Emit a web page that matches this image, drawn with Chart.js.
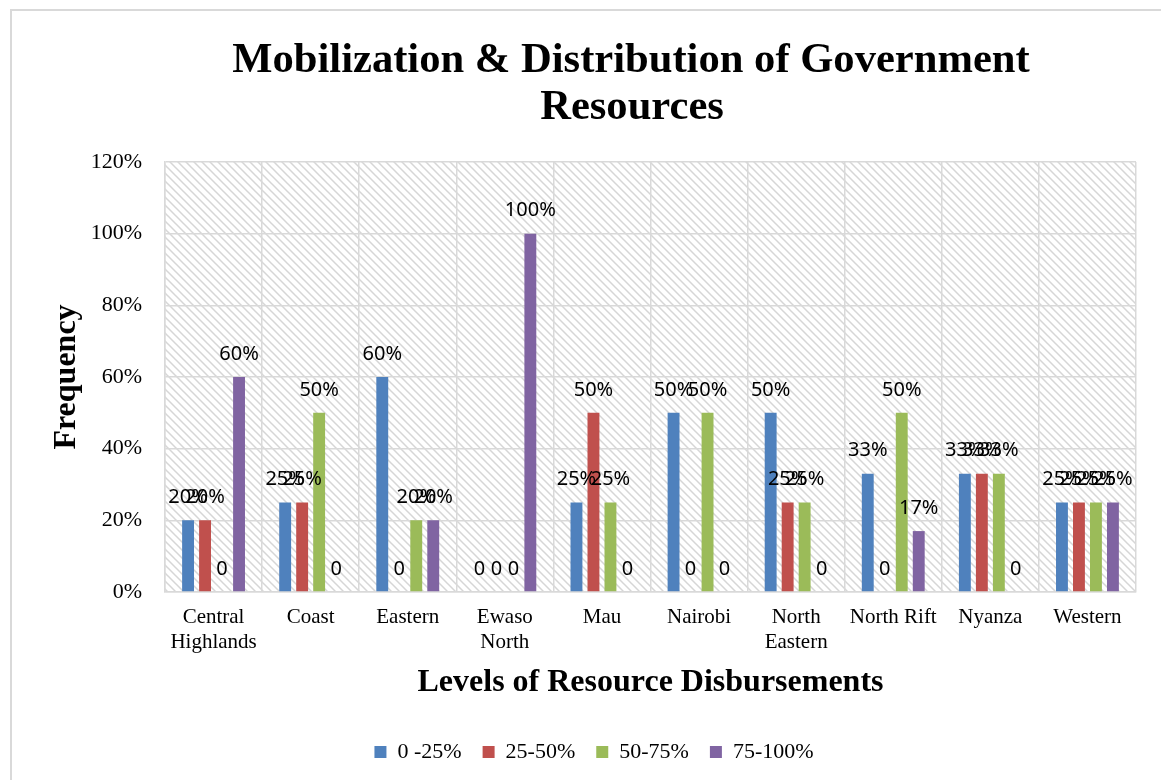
<!DOCTYPE html>
<html>
<head>
<meta charset="utf-8">
<title>Mobilization &amp; Distribution of Government Resources</title>
<script src="https://cdn.jsdelivr.net/npm/chart.js@4.4.1/dist/chart.umd.min.js"></script>
<style>
    html, body { margin: 0; padding: 0; background: #ffffff; }
    #wrap { width: 1161px; height: 780px; position: relative; }
</style>
</head>
<body>
<div id="wrap"><canvas id="resourceChart"></canvas></div>
<script>
// Regions (multi-line labels as arrays)
const regions = [
    ['Central', 'Highlands'], 'Coast', 'Eastern', ['Ewaso', 'North'], 'Mau',
    'Nairobi', ['North', 'Eastern'], 'North Rift', 'Nyanza', 'Western'
];

// Share of respondents per disbursement level, in percent
const level0to25   = [20, 25, 60, 0, 25, 50, 50, 33, 33, 25];
const level25to50  = [20, 25, 0, 0, 50, 0, 25, 0, 33, 25];
const level50to75  = [0, 50, 20, 0, 25, 50, 25, 50, 33, 25];
const level75to100 = [60, 0, 20, 100, 0, 0, 0, 17, 0, 25];

const seriesNames = ['0 -25%', '25-50%', '50-75%', '75-100%'];
const yTicks = [0, 20, 40, 60, 80, 100, 120];
const titleLines = ['Mobilization & Distribution of Government', 'Resources'];

const serif = '"Liberation Serif", "Times New Roman", serif';
const gridColor = '#d9d9d9';

// Diagonal hatch used as the plot background
function makeHatch() {
    const size = 8;
    const c = document.createElement('canvas');
    c.width = size;
    c.height = size;
    const g = c.getContext('2d');
    g.fillStyle = '#ffffff';
    g.fillRect(0, 0, size, size);
    g.strokeStyle = '#d6d6d6';
    g.lineWidth = 1.5;
    g.beginPath();
    g.moveTo(-1, -1);
    g.lineTo(size + 1, size + 1);
    g.moveTo(-1, size - 1);
    g.lineTo(1, size + 1);
    g.moveTo(size - 1, -1);
    g.lineTo(size + 1, 1);
    g.stroke();
    return c;
}

const backdrop = {
    id: 'backdrop',
    beforeDraw(chart) {
        const { ctx, chartArea: a } = chart;
        ctx.save();
        ctx.fillStyle = '#ffffff';
        ctx.fillRect(0, 0, chart.width, chart.height);
        // outer frame
        ctx.strokeStyle = gridColor;
        ctx.lineWidth = 2;
        ctx.strokeRect(11, 10, chart.width + 20, chart.height + 20);
        // hatched plot area
        ctx.fillStyle = ctx.createPattern(makeHatch(), 'repeat');
        ctx.fillRect(a.left, a.top, a.right - a.left, a.bottom - a.top);
        ctx.restore();
    }
};

// Two-line chart heading, centred a little right of the canvas middle
const heading = {
    id: 'heading',
    afterDraw(chart) {
        const { ctx } = chart;
        ctx.save();
        ctx.font = 'bold 42.6px ' + serif;
        ctx.fillStyle = '#000000';
        ctx.textAlign = 'center';
        ctx.textBaseline = 'alphabetic';
        ctx.fillText(titleLines[0], 631, 72);
        ctx.fillText(titleLines[1], 632, 119);
        ctx.restore();
    }
};

// Value labels above every bar, "0" for empty bars
const barValueLabels = {
    id: 'barValueLabels',
    afterDatasetsDraw(chart) {
        const { ctx } = chart;
        ctx.save();
        ctx.font = '20px "Noto Sans", "Open Sans", sans-serif';
        ctx.fillStyle = '#000000';
        ctx.textAlign = 'center';
        ctx.textBaseline = 'middle';
        chart.data.datasets.forEach((ds, i) => {
            chart.getDatasetMeta(i).data.forEach((bar, j) => {
                const v = ds.data[j];
                ctx.fillText(v === 0 ? '0' : v + '%', bar.x, bar.y - 23);
            });
        });
        ctx.restore();
    }
};

const colors = ['#4F81BD', '#C0504D', '#9BBB59', '#8064A2'];
const seriesData = [level0to25, level25to50, level50to75, level75to100];

new Chart(document.getElementById('resourceChart'), {
    type: 'bar',
    data: {
        labels: regions,
        datasets: seriesData.map((data, i) => ({
            label: seriesNames[i],
            data: data,
            backgroundColor: colors[i],
            borderWidth: 0,
            categoryPercentage: 0.7,
            barPercentage: 0.7
        }))
    },
    options: {
        responsive: true,
        maintainAspectRatio: false,
        animation: false,
        layout: {
            padding: { left: 52, right: 25, top: 162, bottom: 7 }
        },
        scales: {
            x: {
                afterFit(scale) { scale.height = 128; },
                grid: { color: gridColor, lineWidth: 1.5, drawTicks: false, offset: true },
                border: { color: gridColor, width: 1.5 },
                ticks: {
                    color: '#000000',
                    padding: 13,
                    font: { family: serif, size: 21, lineHeight: 1.2 },
                    maxRotation: 0,
                    autoSkip: false
                },
                title: {
                    display: true,
                    text: 'Levels of Resource Disbursements',
                    color: '#000000',
                    font: { family: serif, size: 32, weight: 'bold' },
                    padding: { top: 0, bottom: 18 }
                }
            },
            y: {
                afterFit(scale) { scale.width = 113; },
                min: 0,
                max: 120,
                afterBuildTicks(scale) {
                    scale.ticks = yTicks.map(v => ({ value: v }));
                },
                grid: { color: gridColor, lineWidth: 1.5, drawTicks: false },
                border: { color: gridColor, width: 1.5 },
                ticks: {
                    color: '#000000',
                    padding: 23,
                    font: { family: serif, size: 22 },
                    callback: v => v + '%'
                },
                title: {
                    display: true,
                    text: 'Frequency',
                    color: '#000000',
                    font: { family: serif, size: 32, weight: 'bold' },
                    padding: { top: -4, bottom: 0 }
                }
            }
        },
        plugins: {
            title: { display: false },
            legend: {
                position: 'bottom',
                labels: {
                    color: '#000000',
                    boxWidth: 12,
                    boxHeight: 12,
                    padding: 21,
                    font: { family: serif, size: 22 }
                }
            },
            tooltip: { enabled: false }
        }
    },
    plugins: [backdrop, barValueLabels, heading]
});
</script>
</body>
</html>
